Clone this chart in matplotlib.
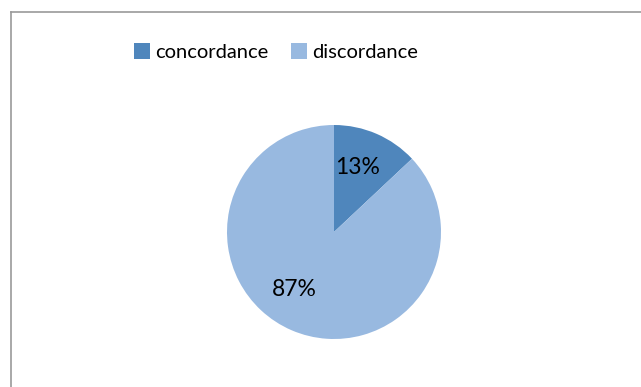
import matplotlib.pyplot as plt
from matplotlib.lines import Line2D
from matplotlib.patches import Patch

labels = ["concordance", "discordance"]
values = [13, 87]
colors = ["#4F86BC", "#98B9E0"]

plt.rcParams["font.family"] = ["Lato", "DejaVu Sans"]

fig = plt.figure(figsize=(6.41, 3.87), dpi=100)

# chart frame (only left/top edges visible in crop)
fig.add_artist(Line2D([10.5 / 641, 10.5 / 641], [0, 1 - 11.5 / 387], color="#9a9a9a", lw=1.2))
fig.add_artist(Line2D([10.5 / 641, 1], [1 - 11.5 / 387, 1 - 11.5 / 387], color="#9a9a9a", lw=1.2))

ax = fig.add_axes([227 / 641, 48 / 387, 214 / 641, 214 / 387])
wedges, texts, autotexts = ax.pie(values, colors=colors, startangle=90, counterclock=False,
                                  autopct="%1.0f%%", pctdistance=0.64, radius=1,
                                  textprops={"fontsize": 16.5, "color": "black"})
autotexts[0].set_position((0.22, 0.6))
autotexts[1].set_position((-0.37, -0.54))
ax.set_xlim(-1, 1)
ax.set_ylim(-1, 1)
ax.set_aspect("equal")
ax.axis("off")

handles = [Patch(facecolor=c, edgecolor="none") for c in colors]
fig.legend(handles, labels, loc="center", bbox_to_anchor=(276 / 641, 1 - 52 / 387), ncol=2,
           frameon=False, fontsize=14.5, handlelength=0.8, handleheight=0.8,
           handletextpad=0.25, columnspacing=1.1)

fig.savefig("out.png", dpi=100)
